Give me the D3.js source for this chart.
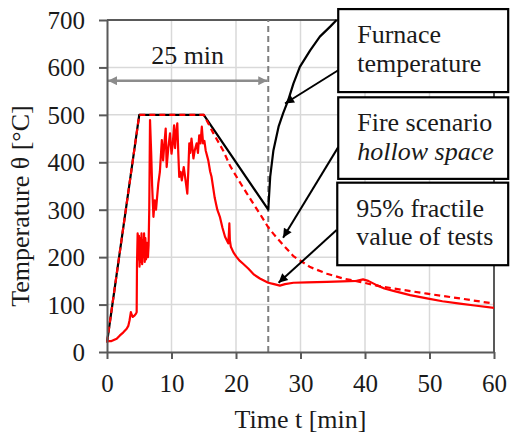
<!DOCTYPE html>
<html>
<head>
<meta charset="utf-8">
<script src="https://cdn.jsdelivr.net/npm/d3@7"></script>
<style>
  html, body { margin: 0; padding: 0; background: #fff; }
  svg { display: block; }
  svg text { font-family: "Liberation Serif", "Times New Roman", serif !important; }
</style>
</head>
<body>
<svg id="chart" width="517" height="437"></svg>
<script>
// ---- data ----
const xTicks = [0, 10, 20, 30, 40, 50, 60];
const yTicks = [0, 100, 200, 300, 400, 500, 600, 700];

// Furnace temperature (black)
const furnT = [0, 5, 15, 25, 25.3, 25.8, 26.6, 27.3, 28.1, 28.9, 29.9, 31.5, 33.0, 34.6, 35.6];
const furnV = [20, 500, 500, 300, 369, 425, 475, 503, 531, 566, 601, 636, 665, 686, 700];

// Fire scenario hollow space (red dashed)
const scenT = [0, 5, 15, 16.5, 18, 19.1, 20.5, 21.7, 23, 24, 25, 26, 27.3, 28.9, 31.5, 34.1, 36.6, 39.2, 41.8, 44.4, 49.6, 54.7, 60];
const scenV = [20, 500, 500, 461, 425, 392, 360, 334, 306, 285, 263, 246, 226, 202, 179, 165, 155, 148, 140, 134, 123, 113, 102];

// 95% fractile value of tests (red solid)
const fracT = [0, 0.7, 1.5, 2.0, 2.5, 3.05, 3.3, 3.5, 3.7, 3.85, 4.0, 4.2, 4.5, 4.6,
  4.65, 4.75, 4.85, 4.95, 5.05, 5.15, 5.25, 5.35, 5.45, 5.55, 5.65, 5.75, 5.85, 5.95, 6.05, 6.2, 6.35, 6.45, 6.55,
  6.67, 6.85, 7.0, 7.2, 7.4, 7.6, 7.95, 8.2, 8.5, 8.7, 8.9, 9.1, 9.25, 9.5, 9.77, 10.0, 10.2, 10.4, 10.55, 10.7, 10.9,
  11.05, 11.2, 11.4, 11.6, 11.9, 12.1, 12.3, 12.45, 12.6, 12.76, 12.9, 13.1, 13.25, 13.4, 13.6, 13.9, 14.1, 14.3, 14.5,
  14.7, 14.9, 15.1, 15.3, 15.7, 16.0, 16.2, 16.7, 17.1, 17.5, 17.9, 18.3, 18.8, 18.9, 18.97, 19.05, 19.2, 19.6, 20.1,
  20.6, 21.1, 21.9, 22.8, 23.7, 25.0, 25.9, 26.8, 27.6, 28.9, 31, 34.1, 36.5, 38.7, 39.7, 40.5, 41.8, 43, 44.4, 47,
  49.6, 52, 54.7, 57, 60];
const fracV = [23, 23, 28, 35, 41, 49, 55, 67, 84, 78, 74, 76, 81, 84,
  186, 250, 195, 245, 180, 240, 190, 250, 185, 235, 200, 250, 190, 240, 195, 230, 200, 225, 300,
  489, 420, 350, 285, 320, 300, 355, 380, 447, 404, 440, 471, 390, 430, 461, 418, 440, 478, 430, 461, 482,
  420, 369, 380, 362, 390, 370, 350, 334, 380, 440, 420, 450, 430, 408, 425, 440, 420, 457, 440,
  475, 440, 445, 425, 404, 380, 370, 325, 300, 285, 262, 243, 229, 250, 271, 235, 222, 210, 200,
  192, 186, 176, 163, 155, 146, 143, 140, 143, 146, 147, 148, 149, 150, 153, 150, 141, 134, 129, 120,
  113, 107, 102, 98, 93];

// annotations (data units)
const spanStart = 0, spanEnd = 25, spanLevel = 572, spanLabel = "25 min";
const boxes = [
  { t0: 35.85, t1: 62.2, v0: 723, v1: 548, lines: ["Furnace", "temperature"], italic: [false, false] },
  { t0: 35.85, t1: 62.2, v0: 537, v1: 365, lines: ["Fire scenario", "hollow space"], italic: [false, true] },
  { t0: 35.7, t1: 62.2, v0: 357, v1: 183, lines: ["95% fractile", "value of tests"], italic: [false, false] }
];
const arrows = [
  { fromT: 35.85, fromV: 594, toT: 27.6, toV: 524 },
  { fromT: 35.85, fromV: 432, toT: 27.3, toV: 241 },
  { fromT: 35.6, fromV: 257, toT: 26.6, toV: 146 }
];

// ---- drawing ----
const svg = d3.select("#chart");
const x = d3.scaleLinear().domain([0, 60]).range([107, 494]);
const y = d3.scaleLinear().domain([0, 700]).range([352, 20]);

const defs = svg.append("defs");
defs.append("marker").attr("id", "ah").attr("viewBox", "0 0 10 10")
  .attr("refX", 10).attr("refY", 5).attr("markerWidth", 11).attr("markerHeight", 9)
  .attr("markerUnits", "userSpaceOnUse").attr("orient", "auto")
  .append("path").attr("d", "M0,0 L10,5 L0,10 z").attr("fill", "#000");
defs.append("marker").attr("id", "gh").attr("viewBox", "0 0 10 10")
  .attr("refX", 10).attr("refY", 5).attr("markerWidth", 11).attr("markerHeight", 9)
  .attr("markerUnits", "userSpaceOnUse").attr("orient", "auto-start-reverse")
  .append("path").attr("d", "M0,0 L10,5 L0,10 z").attr("fill", "#8c8c8c");

// gridlines
svg.append("g").selectAll("line").data(xTicks.slice(1, -1)).join("line")
  .attr("x1", d => x(d)).attr("x2", d => x(d)).attr("y1", y(0)).attr("y2", y(700))
  .attr("stroke", "#d9d9d9").attr("stroke-width", 1.5);
svg.append("g").selectAll("line").data(yTicks.slice(1, -1)).join("line")
  .attr("x1", x(0)).attr("x2", x(60)).attr("y1", d => y(d)).attr("y2", d => y(d))
  .attr("stroke", "#d9d9d9").attr("stroke-width", 1.5);

// frame top/right
svg.append("line").attr("x1", x(0)).attr("x2", x(60)).attr("y1", y(700)).attr("y2", y(700))
  .attr("stroke", "#595959").attr("stroke-width", 2);
svg.append("line").attr("x1", x(60)).attr("x2", x(60)).attr("y1", y(0)).attr("y2", y(700))
  .attr("stroke", "#595959").attr("stroke-width", 2);

// vertical gray dashed at 25 min
svg.append("line").attr("x1", x(25)).attr("x2", x(25)).attr("y1", y(0)).attr("y2", y(700))
  .attr("stroke", "#7f7f7f").attr("stroke-width", 2).attr("stroke-dasharray", "6,4");

// span arrow
svg.append("line").attr("x1", x(spanStart) + 1).attr("x2", x(spanEnd) - 1)
  .attr("y1", y(spanLevel)).attr("y2", y(spanLevel))
  .attr("stroke", "#8c8c8c").attr("stroke-width", 2.5)
  .attr("marker-start", "url(#gh)").attr("marker-end", "url(#gh)");
svg.append("text").attr("x", (x(spanStart) + x(spanEnd)) / 2).attr("y", y(spanLevel) - 17)
  .attr("text-anchor", "middle").attr("font-size", 26).attr("fill", "#1a1a1a").text(spanLabel);

const line = d3.line().x(d => x(d[0])).y(d => y(d[1]));
const zip = (a, b) => a.map((v, i) => [v, b[i]]);

svg.append("path").attr("d", line(zip(furnT, furnV))).attr("fill", "none")
  .attr("stroke", "#000").attr("stroke-width", 2.2).attr("stroke-linejoin", "round");
svg.append("path").attr("d", line(zip(fracT, fracV))).attr("fill", "none")
  .attr("stroke", "#ff0000").attr("stroke-width", 2.2).attr("stroke-linejoin", "round");
svg.append("path").attr("d", line(zip(scenT, scenV))).attr("fill", "none")
  .attr("stroke", "#ff0000").attr("stroke-width", 2.2).attr("stroke-dasharray", "6,4");

// axes
const yAxis = svg.append("g").attr("transform", `translate(${x(0)},0)`)
  .call(d3.axisLeft(y).tickValues(yTicks).tickSize(8).tickSizeOuter(0).tickPadding(14));
const xAxis = svg.append("g").attr("transform", `translate(0,${y(0)})`)
  .call(d3.axisBottom(x).tickValues(xTicks).tickSize(7).tickSizeOuter(0).tickPadding(15));
[yAxis, xAxis].forEach(g => {
  g.attr("font-family", null).attr("font-size", 25);
  g.select(".domain").attr("stroke", "#595959").attr("stroke-width", 2);
  g.selectAll(".tick line").attr("stroke", "#595959").attr("stroke-width", 2);
  g.selectAll(".tick text").attr("font-size", 25).attr("fill", "#1a1a1a");
});
yAxis.selectAll(".tick text").attr("dy", "0.34em");

// axis titles
svg.append("text").attr("x", (x(0) + x(60)) / 2).attr("y", 428)
  .attr("text-anchor", "middle").attr("font-size", 26).attr("fill", "#1a1a1a").text("Time t [min]");
svg.append("text").attr("transform", "translate(29,206) rotate(-90)")
  .attr("text-anchor", "middle").attr("font-size", 26).attr("fill", "#1a1a1a").text("Temperature θ [°C]");

// boxes
boxes.forEach(b => {
  const bx = x(b.t0), by = y(b.v0), bw = x(b.t1) - x(b.t0), bh = y(b.v1) - y(b.v0);
  svg.append("rect").attr("x", bx).attr("y", by).attr("width", bw).attr("height", bh)
    .attr("fill", "#fff").attr("stroke", "#000").attr("stroke-width", 2.2);
  b.lines.forEach((ln, i) => {
    svg.append("text").attr("x", bx + 19).attr("y", by + 34 + i * 28.5)
      .attr("font-size", 26).attr("fill", "#1a1a1a")
      .attr("font-style", b.italic[i] ? "italic" : "normal").text(ln);
  });
});

// arrows
arrows.forEach(a => {
  svg.append("line").attr("x1", x(a.fromT)).attr("y1", y(a.fromV))
    .attr("x2", x(a.toT)).attr("y2", y(a.toV))
    .attr("stroke", "#000").attr("stroke-width", 2).attr("marker-end", "url(#ah)");
});
</script>
</body>
</html>
